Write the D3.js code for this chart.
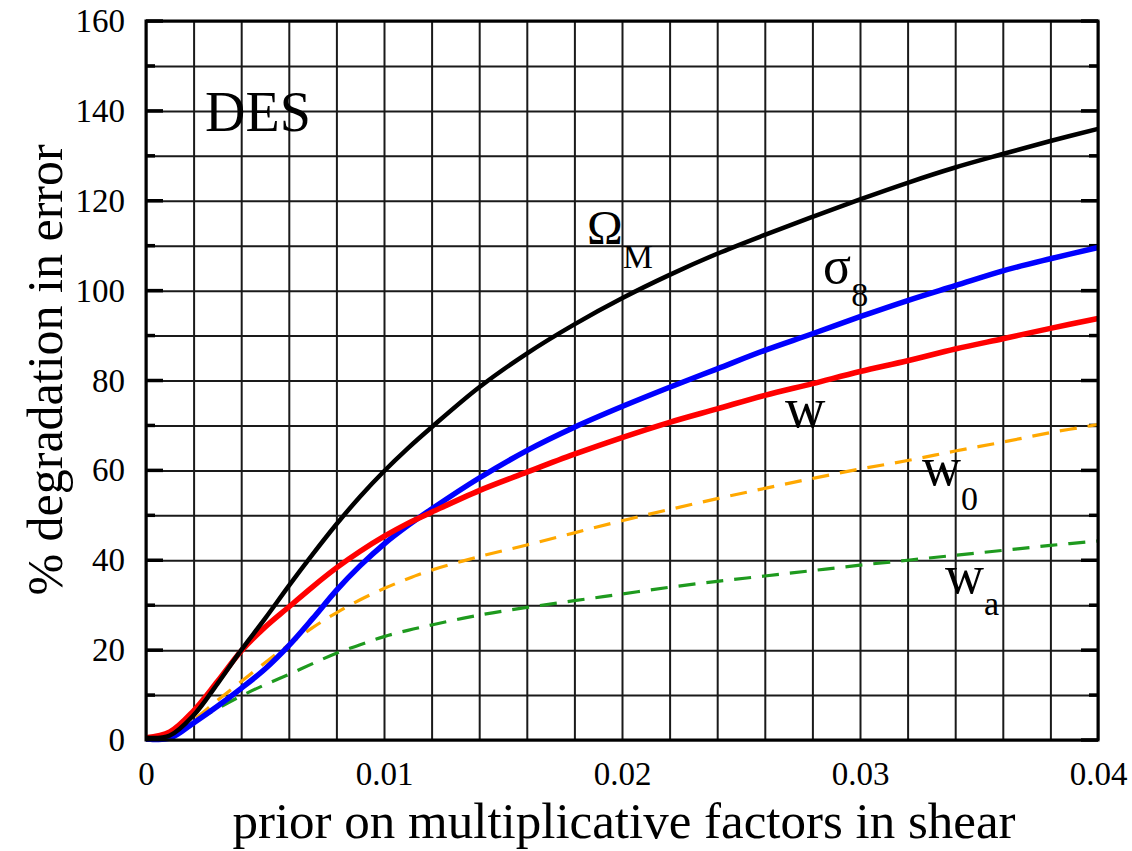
<!DOCTYPE html>
<html lang="en">
<head>
    <meta charset="UTF-8">
    <title>DES degradation</title>
    <script src="https://d3js.org/d3.v7.min.js"></script>
    <style>
        body {
            margin: 0;
            background: white;
        }
        text {
            font-family: "Liberation Serif", "Times New Roman", serif;
            fill: black;
        }
    </style>
</head>
<body>
<svg id="viz"></svg>
<script>
    // prior on multiplicative factors in shear
    var priors = [0, 0.001, 0.002, 0.003, 0.004, 0.005, 0.006, 0.007, 0.008, 0.009, 0.010, 0.011,
        0.012, 0.014, 0.016, 0.018, 0.020, 0.022, 0.024, 0.026, 0.028, 0.030,
        0.032, 0.034, 0.036, 0.038, 0.040];

    // % degradation in error
    var omegaM = [0.5, 1, 5.5, 12.5, 20, 27, 34.3, 41.3, 48, 54.2, 59.8, 64.9,
        69.6, 78.5, 86, 92.5, 98.3, 103.5, 108.2, 112.4, 116.4, 120.3,
        124, 127.4, 130.4, 133.3, 136];
    var sigma8 = [0.3, 0.4, 3.8, 7.5, 11.5, 15.8, 21, 27, 33.3, 38.8, 43.6, 47.7,
        51.4, 58.3, 64.4, 69.6, 74.2, 78.5, 82.6, 86.7, 90.4, 94.2,
        97.8, 101.1, 104.4, 107.1, 109.6];
    var wVals = [0.5, 1.8, 6.5, 13, 19.8, 25.1, 29.6, 34.1, 38.3, 42, 45.3, 48.2,
        50.7, 55.5, 59.6, 63.6, 67.3, 70.7, 73.7, 76.7, 79.3, 82,
        84.4, 87, 89.3, 91.6, 93.8];
    var w0Vals = [0.3, 0.8, 4.5, 8.8, 13, 17.2, 21.2, 25, 28.3, 31.2, 33.7, 35.9,
        37.8, 40.8, 43.4, 46.1, 48.8, 51.3, 53.7, 56, 58.2, 60.3,
        62.2, 64.3, 66.3, 68.4, 70.2];
    var waVals = [0.3, 0.8, 4, 7, 9.8, 12.3, 14.6, 17, 19.3, 21.2, 23, 24.4,
        25.6, 27.8, 29.5, 31, 32.5, 34, 35.3, 36.5, 37.7, 38.9,
        40, 41.1, 42.2, 43.3, 44.3];

    var xTickValues = [0, 0.01, 0.02, 0.03, 0.04];
    var xTickLabels = ["0", "0.01", "0.02", "0.03", "0.04"];
    var yTickValues = [0, 20, 40, 60, 80, 100, 120, 140, 160];

    var series = [
        {name: "OmegaM", values: omegaM, color: "#000000", width: 4.5, dash: null},
        {name: "w", values: wVals, color: "#ff0000", width: 5.5, dash: null},
        {name: "sigma8", values: sigma8, color: "#0000ff", width: 5.5, dash: null},
        {name: "w0", values: w0Vals, color: "#ffa800", width: 3.2, dash: "17,11"},
        {name: "wa", values: waVals, color: "#1e9a1e", width: 3.2, dash: "17,11"}
    ];

    var width = 1132, height = 851;
    var pLeft = 146, pRight = 1098, pTop = 21, pBottom = 740;

    var svg = d3.select("#viz")
        .attr("width", width)
        .attr("height", height);

    var xScale = d3.scaleLinear().domain([0, 0.04]).range([pLeft, pRight]);
    var yScale = d3.scaleLinear().domain([0, 160]).range([pBottom, pTop]);

    // grid: every 0.002 in x, every 10 in y
    var xGrid = d3.range(0, 0.0401, 0.002);
    var yGrid = d3.range(0, 161, 10);

    svg.append("g")
        .attr("transform", "translate(0," + pBottom + ")")
        .call(d3.axisBottom(xScale).tickValues(xGrid).tickSize(-(pBottom - pTop)).tickFormat(""))
        .call(function (g) {
            g.select(".domain").remove();
            g.selectAll("line").attr("stroke", "#1a1a1a").attr("stroke-width", 2);
        });

    svg.append("g")
        .attr("transform", "translate(" + pLeft + ",0)")
        .call(d3.axisLeft(yScale).tickValues(yGrid).tickSize(-(pRight - pLeft)).tickFormat(""))
        .call(function (g) {
            g.select(".domain").remove();
            g.selectAll("line").attr("stroke", "#1a1a1a").attr("stroke-width", 2);
        });

    // inward ticks on left and right frame
    var tickG = svg.append("g");
    yGrid.forEach(function (v) {
        var len = (v % 20 === 0) ? 17 : 9;
        tickG.append("line")
            .attr("x1", pLeft).attr("x2", pLeft + len)
            .attr("y1", yScale(v)).attr("y2", yScale(v))
            .attr("stroke", "black").attr("stroke-width", 3.5);
        tickG.append("line")
            .attr("x1", pRight).attr("x2", pRight - len)
            .attr("y1", yScale(v)).attr("y2", yScale(v))
            .attr("stroke", "black").attr("stroke-width", 3.5);
    });

    // curves
    var line = d3.line()
        .x(function (d) { return xScale(d[0]); })
        .y(function (d) { return yScale(d[1]); })
        .curve(d3.curveCatmullRom.alpha(0.5));

    var plot = svg.append("g");
    series.slice().reverse().forEach(function (s) {
        var pts = priors.map(function (p, i) { return [p, s.values[i]]; });
        plot.append("path")
            .datum(pts)
            .attr("d", line)
            .attr("fill", "none")
            .attr("stroke", s.color)
            .attr("stroke-width", s.width)
            .attr("stroke-linecap", "butt")
            .attr("stroke-dasharray", s.dash);
    });

    // frame
    svg.append("rect")
        .attr("x", pLeft).attr("y", pTop)
        .attr("width", pRight - pLeft).attr("height", pBottom - pTop)
        .attr("fill", "none")
        .attr("stroke", "black")
        .attr("stroke-width", 3);

    // tick labels
    var xAxis = d3.axisBottom(xScale)
        .tickValues(xTickValues)
        .tickSize(0)
        .tickPadding(22)
        .tickFormat(function (d, i) { return xTickLabels[i]; });
    svg.append("g")
        .attr("transform", "translate(0," + pBottom + ")")
        .call(xAxis)
        .call(function (g) {
            g.select(".domain").remove();
            g.selectAll("text")
                .style("font-family", "'Liberation Serif', serif")
                .style("font-size", "33px");
        });

    var yAxis = d3.axisLeft(yScale)
        .tickValues(yTickValues)
        .tickSize(0)
        .tickPadding(21);
    svg.append("g")
        .attr("transform", "translate(" + pLeft + ",0)")
        .call(yAxis)
        .call(function (g) {
            g.select(".domain").remove();
            g.selectAll("text")
                .style("font-family", "'Liberation Serif', serif")
                .style("font-size", "33px");
        });

    // axis titles
    svg.append("text")
        .attr("x", 624)
        .attr("y", 838)
        .attr("text-anchor", "middle")
        .style("font-size", "51px")
        .text("prior on multiplicative factors in shear");

    svg.append("text")
        .attr("transform", "translate(62,370) rotate(-90)")
        .attr("text-anchor", "middle")
        .style("font-size", "50px")
        .text("% degradation in error");

    // curve labels (positions in data units)
    var labels = [
        {main: "DES", sub: null, x: 0.00248, y: 135.6, size: 56},
        {main: "\u03A9", sub: "M", x: 0.01853, y: 110.4, size: 48, dy: 24},
        {main: "\u03C3", sub: "8", x: 0.02845, y: 101.6, size: 52, dy: 23},
        {main: "w", sub: null, x: 0.02685, y: 69.6, size: 56},
        {main: "w", sub: "0", x: 0.0326, y: 56.7, size: 54, dy: 25},
        {main: "w", sub: "a", x: 0.03357, y: 32.7, size: 54, dy: 22}
    ];
    labels.forEach(function (l) {
        var t = svg.append("text")
            .attr("x", xScale(l.x))
            .attr("y", yScale(l.y))
            .style("font-size", l.size + "px");
        t.append("tspan").text(l.main);
        if (l.sub) {
            t.append("tspan")
                .attr("dy", l.dy)
                .style("font-size", "34px")
                .text(l.sub);
        }
    });
</script>
</body>
</html>
